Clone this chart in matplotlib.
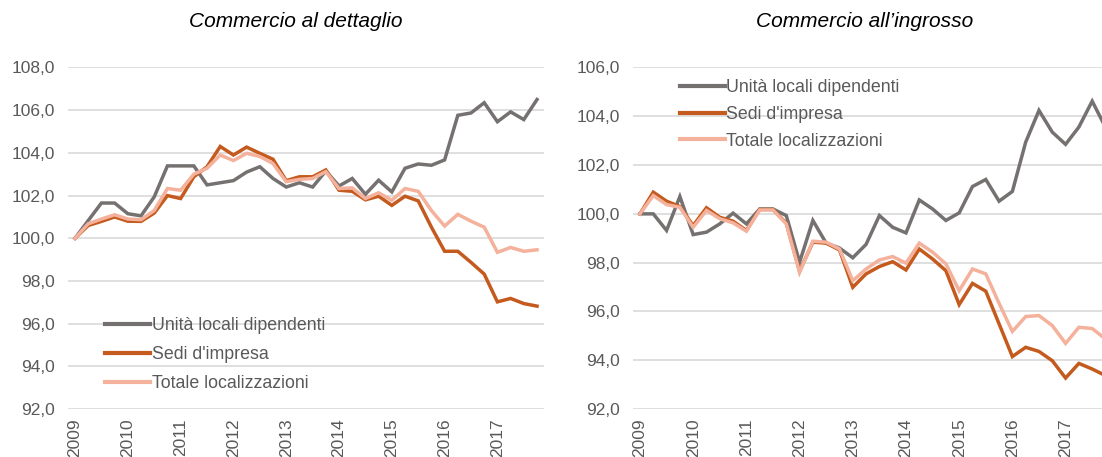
import matplotlib
matplotlib.use("Agg")
import matplotlib.pyplot as plt
from matplotlib.ticker import FuncFormatter

plt.rcParams['font.family'] = ['Liberation Sans', 'DejaVu Sans']

# trimestri 2009 Q1 - 2017 Q4
anni = ['2009', '2010', '2011', '2012', '2013', '2014', '2015', '2016', '2017']
n_trim = 36

serie = ["Unità locali dipendenti", "Sedi d'impresa", "Totale localizzazioni"]

# Commercio al dettaglio
dett_unita = [100.0, 100.83, 101.65, 101.65, 101.15, 101.05, 101.94, 103.39, 103.39, 103.39,
              102.5, 102.6, 102.7, 103.1, 103.35, 102.8, 102.4, 102.6, 102.4, 103.15,
              102.45, 102.8, 102.06, 102.72, 102.17, 103.28, 103.48, 103.42, 103.67, 105.76,
              105.87, 106.35, 105.46, 105.92, 105.56, 106.5]
dett_sedi = [100.0, 100.6, 100.79, 101.0, 100.8, 100.79, 101.18, 102.0, 101.86, 102.88,
             103.35, 104.3, 103.9, 104.27, 103.98, 103.7, 102.7, 102.88, 102.88, 103.2,
             102.25, 102.2, 101.8, 101.97, 101.54, 101.97, 101.75, 100.52, 99.39, 99.39,
             98.87, 98.32, 97.02, 97.18, 96.94, 96.82]
dett_totale = [100.0, 100.68, 100.9, 101.1, 100.9, 100.87, 101.3, 102.33, 102.25, 103.0,
               103.28, 103.9, 103.64, 103.98, 103.83, 103.5, 102.65, 102.76, 102.8, 103.12,
               102.33, 102.36, 101.86, 102.13, 101.78, 102.33, 102.2, 101.3, 100.57, 101.12,
               100.8, 100.52, 99.34, 99.57, 99.39, 99.46]

# Commercio all'ingrosso
ingr_unita = [100.0, 100.0, 99.32, 100.71, 99.15, 99.25, 99.59, 100.03, 99.59, 100.2,
              100.2, 99.93, 98.02, 99.73, 98.8, 98.6, 98.2, 98.75, 99.93, 99.45,
              99.22, 100.57, 100.2, 99.73, 100.04, 101.12, 101.41, 100.52, 100.92, 102.94,
              104.24, 103.35, 102.85, 103.56, 104.62, 103.55]
ingr_sedi = [100.0, 100.89, 100.52, 100.3, 99.52, 100.25, 99.86, 99.7, 99.32, 100.18,
             100.18, 99.62, 97.65, 98.84, 98.8, 98.52, 96.99, 97.54, 97.84, 98.04,
             97.7, 98.56, 98.15, 97.67, 96.28, 97.15, 96.83, 95.49, 94.15, 94.53,
             94.36, 93.98, 93.27, 93.87, 93.64, 93.37]
ingr_totale = [100.0, 100.75, 100.38, 100.27, 99.45, 100.14, 99.8, 99.63, 99.29, 100.16,
               100.16, 99.59, 97.6, 98.88, 98.84, 98.56, 97.26, 97.74, 98.11, 98.25,
               97.98, 98.8, 98.43, 97.95, 96.85, 97.74, 97.54, 96.33, 95.18, 95.79,
               95.83, 95.42, 94.69, 95.35, 95.3, 94.87]

colori = ['#767171', '#c55a1e', '#f4b19c']
grigio_testo = '#595959'

fig = plt.figure(figsize=(11.02, 4.57), dpi=100)
ax1 = fig.add_axes([0.0621, 0.105, 0.4312, 0.7473])
ax2 = fig.add_axes([0.5747, 0.105, 0.4345, 0.7473])

x = list(range(n_trim))
fmt = FuncFormatter(lambda v, p: f"{v:.1f}".replace('.', ','))


def disegna(ax, dati, ymin, ymax):
    for vals, col, lab in zip(dati, colori, serie):
        ax.plot(x, vals, color=col, lw=2.5, label=lab, solid_joinstyle='miter')
    ax.set_xlim(-0.5, n_trim - 0.5)
    ax.set_ylim(ymin, ymax)
    ax.set_yticks(range(ymin, ymax + 1, 2))
    ax.yaxis.set_major_formatter(fmt)
    ax.set_xticks(range(0, n_trim, 4))
    ax.set_xticklabels(anni, rotation=90, va='top')
    ax.grid(axis='y', color='#d9d9d9', lw=1.2)
    ax.set_axisbelow(True)
    for s in ax.spines.values():
        s.set_visible(False)
    ax.tick_params(axis='y', length=0, pad=9.5, labelsize=12.5, labelcolor=grigio_testo)
    ax.tick_params(axis='x', length=0, pad=7, labelsize=12.5, labelcolor=grigio_testo)


disegna(ax1, [dett_unita, dett_sedi, dett_totale], 92, 108)
disegna(ax2, [ingr_unita, ingr_sedi, ingr_totale], 92, 106)

leg1 = ax1.legend(loc='upper left', bbox_to_anchor=(0.078, 0.27), frameon=False,
                  fontsize=12.8, handlelength=2.5, handletextpad=0.1, labelspacing=0.68,
                  borderpad=0, borderaxespad=0)
leg2 = ax2.legend(loc='upper left', bbox_to_anchor=(0.098, 0.967), frameon=False,
                  fontsize=12.8, handlelength=2.5, handletextpad=0.1, labelspacing=0.56,
                  borderpad=0, borderaxespad=0)
for leg in (leg1, leg2):
    for t in leg.get_texts():
        t.set_color(grigio_testo)
    for h in leg.get_lines():
        h.set_linewidth(3)

fig.text(0.268, 0.952, "Commercio al dettaglio", style='italic', fontsize=15,
         ha='center', va='center', color='black')
fig.text(0.785, 0.952, "Commercio all’ingrosso", style='italic', fontsize=15,
         ha='center', va='center', color='black')

fig.savefig('out.png', dpi=100)
